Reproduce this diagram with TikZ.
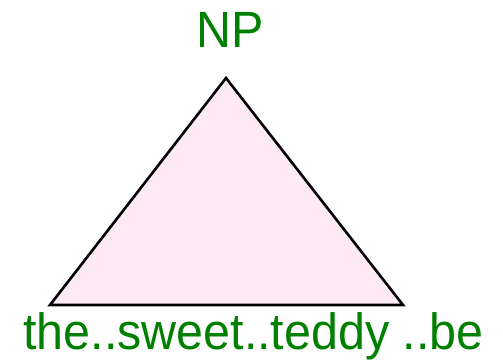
\documentclass[tikz,border=0pt]{standalone}
\usepackage{fontspec}
\setmainfont[FakeStretch=0.95]{Liberation Sans}
\definecolor{npgreen}{RGB}{0,128,0}
\definecolor{nppink}{RGB}{253,234,245}
\begin{document}
\begin{tikzpicture}[x=1pt, y=1pt, every node/.style={font=\fontsize{51}{60}\selectfont, text=npgreen, inner sep=0pt}]
  \useasboundingbox (0,0) rectangle (503,361);
  \coordinate (apex) at (226,283);
  \coordinate (left) at (50,56);
  \coordinate (right) at (403,56);
  \draw[line width=2.6pt, fill=nppink] (apex) -- (left) -- (right) -- cycle;
  \node[anchor=base] (np) at (230.5,313) {NP};
  \node[anchor=base west] (words) at (23,11) {the..sweet..teddy ..be};
\end{tikzpicture}
\end{document}
